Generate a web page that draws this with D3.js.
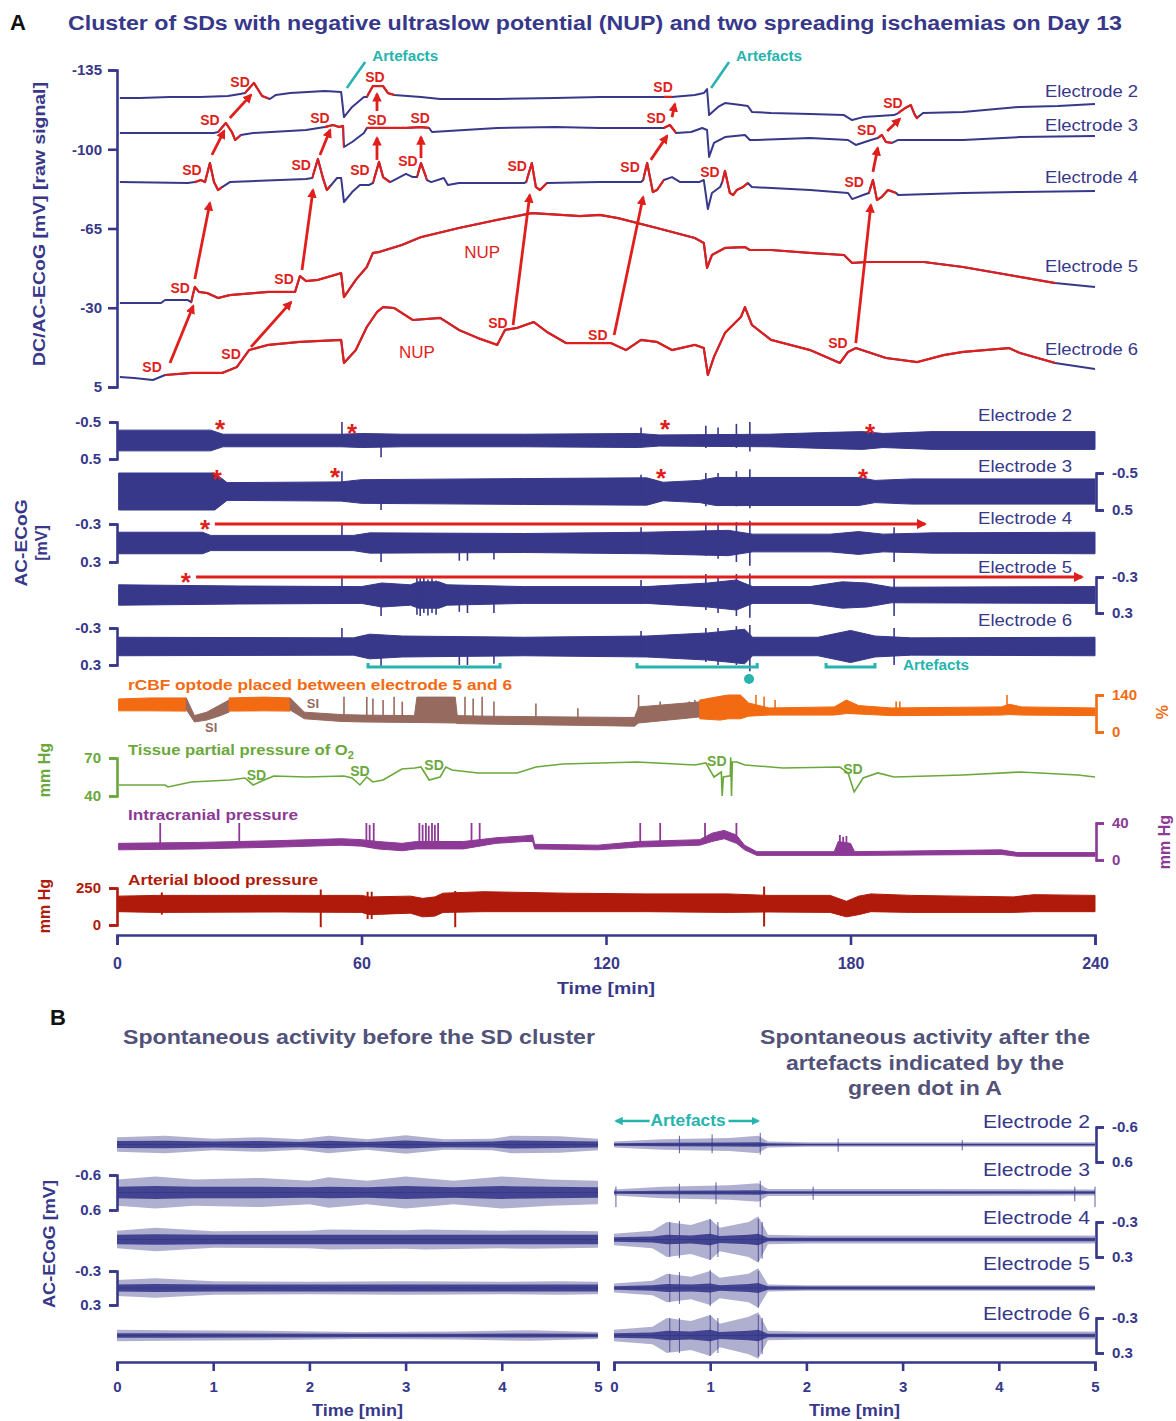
<!DOCTYPE html>
<html lang="en">
<head>
<meta charset="utf-8">
<title>Cluster of SDs with NUP</title>
<script src="https://cdn.jsdelivr.net/npm/d3@7"></script>
<style>
  body { margin: 0; background: #fff; }
</style>
</head>
<body>
<script>
// ---------- DC traces (time [min], potential [mV]) ----------
var dcE2 = [[0.7,-122.6],[5.6,-122.6],[13.0,-123.1],[20.4,-123.1],[27.2,-123.5],[30.2,-124.4],[31.4,-124.8],[33.6,-129.3],[35.6,-123.5],[37.5,-122.2],[39.0,-124.0],[42.5,-124.8],[51.0,-125.7],[55.0,-125.3],[55.7,-114.2],[57.7,-118.7],[60.6,-123.1],[61.3,-123.1],[62.8,-127.9],[65.3,-127.9],[66.5,-124.8],[68.0,-124.0],[74.6,-123.1],[79.3,-122.2],[93.3,-122.2],[107.5,-122.6],[118.5,-123.1],[127.6,-123.1],[134.2,-123.1],[136.2,-123.1],[141.8,-124.0],[144.0,-124.8],[144.8,-126.6],[145.3,-115.1],[147.5,-118.7],[149.2,-120.4],[153.1,-119.5],[154.8,-119.1],[155.8,-116.5],[160.5,-116.0],[170.1,-115.6],[178.4,-115.1],[180.4,-112.9],[183.1,-114.2],[190.7,-115.1],[191.7,-116.0],[193.4,-118.2],[194.8,-119.5],[195.8,-115.1],[196.3,-113.8],[197.8,-116.0],[207.6,-116.5],[221.6,-118.7],[230.9,-119.1],[240,-120.0]];
var dcE3 = [[0.7,-107.2],[13.5,-107.2],[23.8,-107.2],[24.8,-107.6],[26.7,-111.6],[28.2,-107.6],[29.0,-104.1],[30.4,-106.3],[33.4,-107.2],[46.4,-108.5],[51.0,-109.8],[53.0,-110.7],[54.5,-109.8],[55.5,-110.3],[55.7,-101.0],[57.7,-103.2],[60.6,-107.2],[61.3,-109.4],[65.3,-109.4],[70.9,-109.4],[74.6,-109.8],[76.6,-109.4],[77.3,-107.6],[93.3,-109.4],[107.5,-109.8],[118.5,-109.4],[127.6,-109.4],[134.2,-109.4],[135.7,-110.7],[137.2,-107.2],[140.9,-107.6],[143.6,-109.4],[144.8,-108.5],[145.3,-96.6],[146.5,-102.8],[149.2,-105.4],[154.1,-106.3],[155.3,-104.1],[156.8,-104.1],[170.1,-105.0],[179.4,-104.1],[181.3,-101.9],[185.0,-104.1],[186.7,-105.0],[187.7,-106.3],[188.7,-103.2],[190.2,-102.8],[191.7,-104.1],[207.6,-104.1],[221.6,-105.4],[240,-105.9]];
var dcE4 = [[0.7,-85.5],[17.4,-85.1],[19.1,-85.5],[20.6,-86.4],[21.6,-85.5],[22.8,-93.9],[23.8,-85.5],[24.8,-82.0],[25.8,-83.3],[27.7,-85.5],[46.4,-86.9],[47.9,-87.3],[49.3,-95.7],[50.6,-86.9],[51.5,-82.0],[53.0,-85.1],[54.0,-87.3],[55.0,-87.3],[55.7,-76.7],[57.7,-81.1],[59.6,-84.2],[61.8,-84.2],[62.8,-85.1],[64.3,-94.4],[65.3,-87.7],[67.0,-85.5],[68.0,-86.4],[70.9,-89.1],[72.6,-87.7],[73.6,-87.7],[74.6,-93.9],[76.1,-86.4],[77.1,-85.5],[80.2,-87.3],[81.2,-84.2],[83.9,-85.1],[99.9,-85.1],[100.4,-85.5],[101.8,-93.9],[102.8,-83.3],[103.8,-82.0],[105.5,-85.1],[118.5,-85.5],[128.6,-85.5],[129.1,-86.4],[130.1,-93.9],[131.5,-81.1],[132.5,-82.0],[134.2,-86.4],[136.2,-87.7],[138.2,-85.5],[142.8,-85.5],[144.0,-86.4],[145.0,-73.6],[146.0,-80.7],[148.0,-83.3],[148.5,-85.5],[149.2,-90.4],[150.4,-80.7],[151.2,-79.8],[152.1,-82.0],[153.6,-83.3],[154.8,-85.1],[155.8,-83.3],[170.1,-82.0],[179.4,-80.7],[180.4,-78.0],[183.1,-79.8],[184.5,-80.7],[185.5,-86.4],[186.5,-77.6],[187.7,-79.0],[189.2,-82.0],[191.2,-80.7],[191.7,-79.8],[207.6,-80.7],[221.6,-81.1],[240,-81.6]];
var dcE5 = [[0.7,-32.1],[10.8,-32.1],[11.8,-33.4],[17.4,-33.4],[18.2,-32.5],[19.1,-39.2],[20.1,-37.0],[22.1,-36.5],[24.8,-34.3],[27.7,-35.6],[37.1,-37.0],[43.7,-37.0],[44.9,-44.0],[46.4,-41.8],[49.3,-42.3],[55.0,-45.3],[55.7,-34.7],[58.6,-42.3],[61.3,-48.0],[62.8,-54.2],[64.3,-54.6],[69.9,-57.7],[74.6,-61.2],[83.9,-65.2],[93.3,-68.8],[101.8,-71.8],[113.6,-70.5],[118.5,-71.0],[122.9,-69.6],[132.5,-65.2],[141.8,-60.8],[144.0,-58.6],[144.8,-47.6],[146.0,-53.3],[149.2,-56.4],[154.1,-56.8],[155.3,-55.5],[160.5,-55.5],[170.1,-54.2],[178.4,-53.3],[180.4,-49.8],[184.0,-50.2],[198.0,-50.2],[207.6,-48.0],[221.6,-43.6],[230.2,-40.9],[240,-39.2]];
var dcE6 = [[0.7,0.6],[4.2,1.0],[8.8,1.9],[11.8,-0.3],[18.2,-1.2],[25.8,-1.2],[29.4,-3.8],[32.4,-11.3],[37.1,-13.6],[44.7,-14.9],[55.0,-15.8],[55.7,-5.6],[58.6,-11.3],[61.3,-21.5],[63.8,-28.1],[65.3,-30.3],[68.0,-29.9],[72.6,-24.6],[79.3,-25.5],[83.9,-20.2],[88.6,-16.6],[93.3,-13.6],[95.2,-20.2],[98.2,-21.1],[102.3,-23.7],[105.5,-19.3],[110.2,-14.4],[113.6,-14.4],[121.2,-14.4],[124.9,-11.3],[128.6,-15.8],[132.5,-14.9],[136.2,-11.3],[141.8,-13.6],[144.0,-12.2],[145.0,-0.3],[146.5,-8.3],[149.2,-18.9],[153.1,-25.9],[154.1,-30.3],[155.8,-22.4],[160.5,-15.8],[170.1,-11.3],[177.4,-5.6],[179.4,-10.5],[181.3,-12.2],[188.7,-7.8],[196.3,-6.0],[202.9,-9.1],[207.6,-10.5],[218.9,-12.2],[221.6,-10.0],[230.2,-5.6],[240,-2.9]];

// time windows of each DC trace that are drawn red (SD / NUP)
var redE2 = [[31.4,37.1],[61.3,68.0],[134.2,136.2],[191.7,196.8]];
var redE3 = [[24.8,30.4],[51.0,55.7],[61.3,76.6],[134.2,137.2],[186.7,190.2]];
var redE4 = [[19.1,25.8],[47.9,52.3],[62.8,67.0],[73.6,76.1],[100.4,105.5],[129.1,134.2],[148.5,154.8],[184.5,191.2]];
var redE5 = [[18.2,230.2]];
var redE6 = [[11.8,230.2]];

// SD propagation arrows [t0, mV0, t1, mV1]
var sdArrows = [[13.0,-5.6,18.7,-30.8],[19.1,-42.7,22.8,-76.3],[23.3,-97.5,26.3,-108.1],[27.7,-113.8,32.9,-124.0],
  [32.9,-12.7,42.7,-32.5],[45.4,-46.7,48.1,-82.0],[49.8,-97.5,52.3,-108.5],
  [63.8,-95.3,63.8,-105.0],[63.8,-116.9,63.8,-124.4],[74.6,-96.1,74.6,-105.4],
  [97.2,-22.4,101.3,-79.8],
  [122.0,-18.0,129.1,-78.9],[131.0,-95.3,135.0,-105.9],[136.2,-114.2,136.9,-120.0],
  [181.3,-14.4,185.0,-75.4],[185.5,-90.0,186.7,-100.6],[189.0,-108.1,192.1,-113.4]];
// SD labels [t, mV]
var sdLabels = [[30.2,-129.7],[63.3,-131.9],[134.0,-127.5],[190.4,-120.4],
  [22.8,-112.9],[49.8,-113.8],[63.8,-112.9],[74.4,-113.8],[132.3,-113.8],[184.0,-108.5],
  [18.4,-90.8],[45.2,-93.0],[59.6,-90.8],[71.4,-94.8],[98.2,-92.6],[125.9,-92.2],[145.5,-90.0],[180.9,-85.5],
  [15.5,-38.7],[41.0,-42.7],
  [8.6,-3.8],[28.0,-9.6],[93.5,-23.3],[118.0,-18.0],[176.9,-14.4]];
var nupLabels = [[89.6,-54.6],[73.6,-10.5]];
var dcTicks = [-135,-100,-65,-30,5];
var electrodeNames = ["Electrode 2","Electrode 3","Electrode 4","Electrode 5","Electrode 6"];

// ---------- AC-ECoG envelopes [t, half amplitude mV] and spikes [t, neg, pos] ----------
var acE2Env = [[0.4,0.28],[23,0.28],[26,0.17],[55,0.17],[60,0.19],[70,0.17],[100,0.17],[128,0.19],[133,0.15],[160,0.17],[175,0.22],[183,0.24],[188,0.19],[200,0.24],[240,0.24]];
var acE3Env = [[0.4,0.5],[24,0.5],[27,0.24],[55,0.26],[60,0.32],[100,0.35],[130,0.37],[134,0.25],[143,0.3],[147,0.38],[182,0.38],[186,0.3],[195,0.34],[240,0.34]];
var acE4Env = [[0.4,0.17],[21,0.17],[23,0.12],[58,0.12],[62,0.16],[100,0.15],[130,0.17],[150,0.2],[156,0.14],[175,0.14],[182,0.18],[188,0.14],[200,0.16],[240,0.17]];
var acE5Env = [[0.4,0.17],[30,0.15],[60,0.14],[65,0.2],[72,0.17],[74,0.22],[79,0.22],[81,0.17],[100,0.14],[130,0.14],[145,0.2],[152,0.25],[156,0.14],[170,0.14],[178,0.22],[184,0.2],[190,0.13],[240,0.14]];
var acE6Env = [[0.4,0.15],[58,0.14],[62,0.2],[70,0.17],[100,0.15],[130,0.17],[145,0.22],[154,0.28],[156,0.15],[172,0.15],[180,0.26],[186,0.17],[195,0.14],[240,0.15]];
var acE2Spk = [[55.2,-0.5,0.1],[64.8,-0.1,0.45],[128.6,-0.35,0.1],[144.5,-0.4,0.2],[147.5,-0.35,0.15],[152,-0.45,0.2],[155.3,-0.5,0.3]];
var acE3Spk = [[55.2,-0.55,0.2],[64.8,-0.2,0.5],[128.6,-0.45,0.3],[144.5,-0.5,0.4],[147.5,-0.5,0.35],[152,-0.55,0.4],[155.3,-0.6,0.45]];
var acE4Spk = [[55.2,-0.32,0.1],[64.8,-0.1,0.3],[84,-0.1,0.28],[86,-0.1,0.28],[92.5,-0.1,0.26],[128.6,-0.25,0.15],[144.5,-0.32,0.2],[147.5,-0.3,0.25],[152,-0.33,0.3],[155.3,-0.35,0.36],[190.7,-0.25,0.3]];
var acE5Spk = [[55.2,-0.32,0.15],[64.8,-0.1,0.35],[73.6,-0.3,0.33],[74.4,-0.28,0.35],[75.3,-0.3,0.3],[76.3,-0.26,0.34],[77.3,-0.28,0.3],[78.3,-0.24,0.33],[84,-0.1,0.28],[86,-0.1,0.3],[92.5,-0.1,0.3],[128.6,-0.25,0.15],[144.5,-0.35,0.25],[147.5,-0.3,0.3],[152,-0.35,0.35],[155.3,-0.36,0.38],[190.7,-0.3,0.35]];
var acE6Spk = [[55.2,-0.3,0.1],[64.8,-0.1,0.33],[84,-0.1,0.3],[86,-0.1,0.3],[92.5,-0.1,0.28],[128.6,-0.25,0.15],[144.5,-0.3,0.25],[147.5,-0.3,0.3],[152,-0.33,0.3],[155.3,-0.35,0.4],[190.7,-0.3,0.3]];
// depression onset asterisks [t, mV] per trace
var astE2 = [[25.3,-0.45],[57.7,-0.34],[134.5,-0.45],[184.8,-0.34]];
var astE3 = [[24.5,-0.47],[53.5,-0.53],[133.5,-0.5],[183.1,-0.5]];
var astE4 = [[21.6,-0.3]];
var astE5 = [[16.9,-0.3]];
var persistArrowE4 = [24.0,198.3];
var persistArrowE5 = [19.4,236.8];
var artefactBars = [[61.6,94.0],[127.6,157.1],[174.0,186.0]];
var artefactDot = 155.1;

// ---------- rCBF [t, low %, high %] ----------
var cbfOrange1 = [[0.4,80,125],[8,80,129],[17,79,129]];
var cbfBrown1 = [[17,85,129],[19,38,62],[22,45,75],[25,60,100],[27.5,75,121]];
var cbfOrange2 = [[27.5,79,129],[36,80,132],[42.5,79,129]];
var cbfBrown2 = [[42.5,83,129],[46,50,75],[55,40,66],[60,38,64],[73,36,62],[73.6,36,132],[83,34,132],[83.5,32,62],[90,30,60],[110,26,57],[127,22,55],[128,34,95],[143,57,114]];
var cbfOrange3 = [[143,50,121],[148,45,135],[150,50,140],[153,50,140],[155,60,110],[160,64,91],[176,64,95],[179,70,121],[182,68,100],[190,62,91],[217,64,95],[219,66,105],[222,64,95],[240,62,91]];
var cbfBrownSpk = [[55.7,60,133],[61.3,60,133],[62.8,60,127],[65.3,60,121],[68,60,133],[70,60,115],[85.4,55,133],[87.4,55,127],[89.6,55,133],[92.5,55,115],[102.8,50,108],[113.1,50,90],[128,50,140],[133.3,60,115],[140.4,80,115],[141.8,80,121]];
var cbfOrangeSpk = [[156.8,80,140],[158.8,80,133],[161.5,80,121],[191.2,80,115],[192.1,80,115],[218.4,80,140]];
var siLabels = [[23.1,19],[48.1,110]];

// ---------- tissue pO2 [t, mmHg] ----------
var pto2 = [[0.5,48.7],[11.8,48.7],[12.5,47.1],[18.2,51.1],[27.7,52.6],[31.4,54.2],[33.4,48.7],[36.1,52.6],[38.5,55.8],[46.4,55.0],[55.7,55.8],[57.7,54.2],[59.6,48.7],[61.3,55.0],[62.8,51.1],[65.3,52.6],[69.9,61.3],[73.1,62.1],[74.6,62.9],[76.6,52.6],[79.3,55.0],[80.7,62.9],[82.2,60.5],[88.6,58.2],[98.2,58.2],[102.8,62.9],[109.4,65.3],[118.5,66.1],[127.6,66.8],[141.8,64.5],[144.5,66.1],[146.5,55.0],[148.3,58.9],[148.5,40],[148.8,55],[150.5,56],[150.6,70.5],[150.8,40],[151.0,66.8],[152.1,66.8],[154.1,64.5],[160.5,62.9],[163.4,62.1],[177.4,62.9],[179.4,58.2],[180.9,43.2],[183.1,54.2],[186.7,58.2],[190.7,55.0],[207.6,56.6],[221.6,58.9],[235.8,56.6],[240,55.0]];
var pto2SdLabels = [[34.2,57],[59.6,60],[77.8,64.5],[147.2,68],[180.6,61]];

// ---------- ICP and ABP bands [t, low, high] ----------
var icpBand = [[0.4,11,18],[20,12,19],[40,14,21],[55,16,23],[60,15,22],[64,12,20],[70,10,18],[73.5,12,20],[80,12,20],[85,12,20],[93,18,24],[100,20,26],[102,20,27],[102.5,12,17],[118,11,16],[128,14,20],[143,16,22],[146,20,29],[149,23,32],[152,18,27],[154,11,16],[157,5,9],[176,5,9],[177,5,20],[180,5,18],[181,5,9],[217,6,11],[221,4,8],[240,4,8]];
var icpSpk = [[10.6,15,40],[30,16,40],[61.2,15,40],[62.0,15,38],[63.0,15,40],[74.2,14,40],[75.0,14,38],[75.8,14,40],[76.5,14,37],[77.3,14,40],[78.0,14,38],[78.8,14,40],[87,15,40],[89,15,40],[128.4,16,40],[133.3,16,40],[144.3,18,40],[152,20,40],[177.4,5,27],[178.2,5,25],[179.0,5,26]];
var abpBand = [[0.4,90,195],[10,85,200],[40,88,200],[60,85,200],[62,70,190],[72,80,195],[75,55,180],[78,60,190],[80,85,215],[90,90,225],[110,90,215],[130,90,210],[150,85,210],[160,88,200],[175,85,200],[179,55,160],[182,70,195],[185,90,210],[195,85,200],[220,85,190],[225,90,205],[240,90,200]];
var abpSpk = [[11,70,220],[50,-15,240],[61.5,40,225],[62.5,40,225],[83,-15,230],[158.8,-10,260]];
var timeTicks = [0,60,120,180,240];

// ---------- Panel B envelopes [t, outer half mV, core half mV] ----------
var bL2 = [[0,0.25,0.12],[0.5,0.3,0.13],[1,0.2,0.1],[1.5,0.25,0.12],[1.9,0.18,0.09],[2.2,0.3,0.13],[2.6,0.18,0.09],[3.0,0.32,0.14],[3.4,0.18,0.09],[3.9,0.2,0.1],[4.1,0.3,0.14],[4.6,0.28,0.12],[5,0.2,0.1]];
var bL3 = [[0,0.45,0.2],[0.4,0.55,0.22],[0.8,0.45,0.2],[1.5,0.5,0.2],[2.0,0.4,0.18],[2.2,0.52,0.2],[2.6,0.4,0.18],[3.0,0.55,0.22],[3.5,0.4,0.18],[4.0,0.55,0.22],[4.5,0.45,0.2],[5,0.4,0.18]];
var bL4 = [[0,0.15,0.08],[0.4,0.2,0.09],[1,0.14,0.08],[2,0.15,0.08],[2.2,0.17,0.08],[3,0.16,0.08],[3.2,0.17,0.08],[4,0.15,0.08],[4.3,0.16,0.08],[5,0.14,0.08]];
var bL5 = [[0,0.14,0.06],[0.4,0.17,0.07],[1,0.12,0.06],[2,0.11,0.06],[3,0.12,0.06],[4,0.11,0.06],[4.6,0.12,0.06],[5,0.11,0.06]];
var bL6 = [[0,0.1,0.04],[0.5,0.09,0.04],[1.5,0.08,0.035],[2.5,0.06,0.03],[3.5,0.07,0.03],[4.3,0.09,0.035],[5,0.06,0.03]];
var bR2 = [[0,0.1,0.04],[0.5,0.18,0.06],[1.2,0.22,0.07],[1.5,0.3,0.08],[1.6,0.1,0.04],[2,0.08,0.03],[5,0.08,0.03]];
var bR3 = [[0,0.1,0.04],[0.5,0.2,0.06],[1.2,0.25,0.07],[1.5,0.32,0.08],[1.6,0.12,0.04],[3,0.12,0.04],[5,0.1,0.04]];
var bR4 = [[0,0.1,0.04],[0.4,0.15,0.05],[0.55,0.3,0.08],[0.8,0.25,0.07],[1.0,0.35,0.1],[1.1,0.2,0.06],[1.4,0.3,0.08],[1.5,0.4,0.1],[1.6,0.08,0.03],[2,0.07,0.03],[5,0.07,0.03]];
var bR5 = [[0,0.08,0.03],[0.4,0.13,0.05],[0.55,0.25,0.07],[0.8,0.2,0.06],[1.0,0.3,0.08],[1.1,0.18,0.05],[1.4,0.25,0.07],[1.5,0.35,0.09],[1.6,0.06,0.03],[2,0.05,0.025],[5,0.05,0.025]];
var bR6 = [[0,0.1,0.04],[0.4,0.15,0.05],[0.55,0.3,0.08],[0.8,0.25,0.07],[1.0,0.35,0.1],[1.1,0.2,0.06],[1.4,0.32,0.08],[1.5,0.4,0.1],[1.6,0.08,0.03],[2,0.07,0.03],[5,0.07,0.03]];
var bR2Spk = [[0.68,-0.3,0.3],[1.02,-0.35,0.3],[1.52,-0.4,0.35],[2.33,-0.2,0.25],[3.62,-0.15,0.2]];
var bR3Spk = [[0.02,-0.2,0.5],[0.68,-0.3,0.35],[1.06,-0.35,0.4],[1.52,-0.4,0.5],[2.07,-0.2,0.25],[4.79,-0.2,0.3],[5,-0.2,0.5]];
var bR4Spk = [[0.58,-0.3,0.3],[0.68,-0.32,0.32],[1.0,-0.35,0.35],[1.08,-0.3,0.3],[1.5,-0.35,0.38],[1.54,-0.3,0.33]];
var bR5Spk = [[0.58,-0.25,0.25],[0.68,-0.28,0.28],[1.0,-0.32,0.32],[1.5,-0.3,0.35]];
var bR6Spk = [[0.58,-0.3,0.28],[0.68,-0.3,0.3],[1.0,-0.35,0.35],[1.08,-0.3,0.3],[1.5,-0.35,0.36],[1.54,-0.3,0.32]];
var bTicks = [0,1,2,3,4,5];
var bArtefactSpan = [0.02,1.5];

// ---------- styling ----------
var FONT = '"Liberation Sans", Arial, Helvetica, sans-serif';
var NAVY = "#37388a", RED = "#e01f1c", CYAN = "#27b3ae", ORANGE = "#f26b12", BROWN = "#976a5f",
    GREEN = "#6aa83c", PURPLE = "#8c3a96", DARKRED = "#b01a0a", GREY = "#525279";

var svg = d3.select("body").append("svg").attr("width", 1176).attr("height", 1421);
svg.append("rect").attr("width", 1176).attr("height", 1421).attr("fill", "white");
var defs = svg.append("defs");

function marker(id, color) {
	defs.append("marker").attr("id", id).attr("viewBox", "0 0 10 10")
		.attr("refX", 8).attr("refY", 5).attr("markerWidth", 3.4).attr("markerHeight", 3.4)
		.attr("orient", "auto-start-reverse")
		.append("path").attr("d", "M0,0L10,5L0,10z").attr("fill", color);
}
marker("arRed", RED);
marker("arCyan", CYAN);

function label(px, py, str, o) {
	var t = svg.append("text").attr("x", px).attr("y", py).text(str)
		.attr("font-family", FONT).attr("font-size", o.size || 14)
		.attr("font-weight", o.weight || "bold").attr("fill", o.color || NAVY)
		.attr("text-anchor", o.anchor || "start");
	if (o.width) t.attr("textLength", o.width).attr("lengthAdjust", "spacingAndGlyphs");
	if (o.rotate) t.attr("transform", "rotate(-90," + px + "," + py + ")");
	if (o.dy) t.attr("dy", o.dy);
	return t;
}

function styleAxis(g, color, size) {
	g.attr("font-family", FONT).attr("font-size", size).attr("font-weight", "bold");
	g.selectAll("path, line").attr("stroke", color).attr("stroke-width", 2.6);
	g.selectAll("text").attr("fill", color);
}

function bracket(scale, xpos, side, color, size) {
	var ax = (side === "left" ? d3.axisLeft(scale) : d3.axisRight(scale))
		.tickValues(scale.domain()).tickSize(8).tickSizeOuter(8).tickPadding(8).tickFormat(String);
	var g = svg.append("g").attr("transform", "translate(" + xpos + ",0)").call(ax);
	styleAxis(g, color, size || 15);
	return g;
}

// ---------- scales ----------
var x = d3.scaleLinear().domain([0, 240]).range([117, 1095]);
var yDC = d3.scaleLinear().domain([-135, 5]).range([70, 387]);
var acY = [
	d3.scaleLinear().domain([-0.5, 0.5]).range([422, 459]),
	d3.scaleLinear().domain([-0.5, 0.5]).range([473, 510]),
	d3.scaleLinear().domain([-0.3, 0.3]).range([524, 562]),
	d3.scaleLinear().domain([-0.3, 0.3]).range([577, 613]),
	d3.scaleLinear().domain([-0.3, 0.3]).range([628, 665])
];
var yCBF = d3.scaleLinear().domain([0, 140]).range([732, 695]);
var yPO2 = d3.scaleLinear().domain([40, 70]).range([796, 758]);
var yICP = d3.scaleLinear().domain([0, 40]).range([860, 823]);
var yABP = d3.scaleLinear().domain([0, 250]).range([925, 888]);
var xBL = d3.scaleLinear().domain([0, 5]).range([117, 598]);
var xBR = d3.scaleLinear().domain([0, 5]).range([614, 1095]);
var bY = [
	d3.scaleLinear().domain([-0.6, 0.6]).range([1127, 1162]),
	d3.scaleLinear().domain([-0.6, 0.6]).range([1175, 1210]),
	d3.scaleLinear().domain([-0.3, 0.3]).range([1222, 1257]),
	d3.scaleLinear().domain([-0.3, 0.3]).range([1271, 1305]),
	d3.scaleLinear().domain([-0.3, 0.3]).range([1318, 1353])
];

// ---------- titles ----------
label(10, 30, "A", {size: 22, color: "#111"});
label(68, 30, "Cluster of SDs with negative ultraslow potential (NUP) and two spreading ischaemias on Day 13", {size: 20, width: 1054});

// ---------- DC panel ----------
var gDC = svg.append("g").attr("transform", "translate(117,0)")
	.call(d3.axisLeft(yDC).tickValues(dcTicks).tickSize(9).tickSizeOuter(9).tickPadding(6).tickFormat(String));
styleAxis(gDC, NAVY, 15);
label(45, 224, "DC/AC-ECoG [mV] [raw signal]", {size: 16, anchor: "middle", rotate: true, width: 284});

var dcLine = d3.line().x(function(d) { return x(d[0]); }).y(function(d) { return yDC(d[1]); });
var dcTraces = [[dcE2, redE2], [dcE3, redE3], [dcE4, redE4], [dcE5, redE5], [dcE6, redE6]];
dcTraces.forEach(function(tr, i) {
	svg.append("path").attr("d", dcLine(tr[0])).attr("fill", "none")
		.attr("stroke", NAVY).attr("stroke-width", 2).attr("stroke-linejoin", "round");
	tr[1].forEach(function(r, j) {
		var id = "red" + i + "_" + j;
		defs.append("clipPath").attr("id", id).append("rect")
			.attr("x", x(r[0])).attr("width", x(r[1]) - x(r[0])).attr("y", 40).attr("height", 360);
		svg.append("path").attr("d", dcLine(tr[0])).attr("fill", "none").attr("clip-path", "url(#" + id + ")")
			.attr("stroke", RED).attr("stroke-width", 2.2).attr("stroke-linejoin", "round");
	});
});

svg.selectAll("line.sdArrow").data(sdArrows).enter().append("line").attr("class", "sdArrow")
	.attr("x1", function(d) { return x(d[0]); }).attr("y1", function(d) { return yDC(d[1]); })
	.attr("x2", function(d) { return x(d[2]); }).attr("y2", function(d) { return yDC(d[3]); })
	.attr("stroke", RED).attr("stroke-width", 2.8).attr("marker-end", "url(#arRed)");

svg.selectAll("text.sd").data(sdLabels).enter().append("text").attr("class", "sd")
	.attr("x", function(d) { return x(d[0]); }).attr("y", function(d) { return yDC(d[1]); })
	.attr("dy", "0.36em").attr("text-anchor", "middle").text("SD")
	.attr("font-family", FONT).attr("font-size", 14).attr("font-weight", "bold").attr("fill", RED);
svg.selectAll("text.nup").data(nupLabels).enter().append("text").attr("class", "nup")
	.attr("x", function(d) { return x(d[0]); }).attr("y", function(d) { return yDC(d[1]); })
	.attr("dy", "0.36em").attr("text-anchor", "middle").text("NUP")
	.attr("font-family", FONT).attr("font-size", 17).attr("fill", RED);

// artefact callouts at top
[[56.4, 60.9], [145.8, 150.2]].forEach(function(a) {
	svg.append("line").attr("x1", x(a[0])).attr("y1", yDC(-127.1)).attr("x2", x(a[1])).attr("y2", yDC(-138.5))
		.attr("stroke", CYAN).attr("stroke-width", 2.6);
	label(x(a[1]) + 7, 61, "Artefacts", {size: 14, color: CYAN, width: 66});
});

var dcLabelY = [91, 125, 177, 266, 349];
dcLabelY.forEach(function(py, i) {
	label(1045, py, electrodeNames[i], {size: 16, weight: "normal", dy: "0.36em", width: 93});
});

// ---------- AC-ECoG panel ----------
var acEnv = [acE2Env, acE3Env, acE4Env, acE5Env, acE6Env];
var acSpk = [acE2Spk, acE3Spk, acE4Spk, acE5Spk, acE6Spk];
acEnv.forEach(function(env, i) {
	var sc = acY[i];
	var area = d3.area().x(function(d) { return x(d[0]); })
		.y0(function(d) { return sc(d[1]); }).y1(function(d) { return sc(-d[1]); });
	svg.append("path").attr("d", area(env)).attr("fill", NAVY).attr("stroke", NAVY).attr("stroke-width", 1);
	svg.selectAll(null).data(acSpk[i]).enter().append("line")
		.attr("x1", function(d) { return x(d[0]); }).attr("x2", function(d) { return x(d[0]); })
		.attr("y1", function(d) { return sc(d[1]); }).attr("y2", function(d) { return sc(d[2]); })
		.attr("stroke", NAVY).attr("stroke-width", 1.6);
});
bracket(acY[0], 117, "left", NAVY);
bracket(acY[1], 1096, "right", NAVY);
bracket(acY[2], 117, "left", NAVY);
bracket(acY[3], 1096, "right", NAVY);
bracket(acY[4], 117, "left", NAVY);
label(27, 543, "AC-ECoG", {size: 16, anchor: "middle", rotate: true, width: 87});
label(47, 543, "[mV]", {size: 16, anchor: "middle", rotate: true});

var acLabelY = [415, 466, 518, 567, 620];
acLabelY.forEach(function(py, i) {
	label(978, py, electrodeNames[i], {size: 16, weight: "normal", dy: "0.36em", width: 94});
});

var asterisks = [[astE2, 0], [astE3, 1], [astE4, 2], [astE5, 3]];
asterisks.forEach(function(a) {
	var sc = acY[a[1]];
	svg.selectAll(null).data(a[0]).enter().append("text")
		.attr("x", function(d) { return x(d[0]); }).attr("y", function(d) { return sc(d[1]) + 14; })
		.attr("text-anchor", "middle").text("*")
		.attr("font-family", FONT).attr("font-size", 26).attr("font-weight", "bold").attr("fill", RED);
});
[[persistArrowE4, 2], [persistArrowE5, 3]].forEach(function(p) {
	var yy = acY[p[1]](-0.3);
	svg.append("line").attr("x1", x(p[0][0])).attr("x2", x(p[0][1])).attr("y1", yy).attr("y2", yy)
		.attr("stroke", RED).attr("stroke-width", 3).attr("marker-end", "url(#arRed)");
});

artefactBars.forEach(function(b) {
	var yy = 667;
	svg.append("path").attr("d", "M" + x(b[0]) + "," + (yy - 4) + "V" + yy + "H" + x(b[1]) + "V" + (yy - 4))
		.attr("fill", "none").attr("stroke", CYAN).attr("stroke-width", 3);
});
svg.append("circle").attr("cx", x(artefactDot)).attr("cy", 679).attr("r", 5).attr("fill", CYAN);
label(903, 670, "Artefacts", {size: 14, color: CYAN, width: 66});

// ---------- rCBF ----------
label(128, 690, "rCBF optode placed between electrode 5 and 6", {size: 15, color: ORANGE, width: 384});
var cbfArea = d3.area().x(function(d) { return x(d[0]); })
	.y0(function(d) { return yCBF(d[1]); }).y1(function(d) { return yCBF(d[2]); });
[[cbfOrange1, ORANGE], [cbfBrown1, BROWN], [cbfOrange2, ORANGE], [cbfBrown2, BROWN], [cbfOrange3, ORANGE]].forEach(function(s) {
	svg.append("path").attr("d", cbfArea(s[0])).attr("fill", s[1]).attr("stroke", s[1]).attr("stroke-width", 1);
});
[[cbfBrownSpk, BROWN], [cbfOrangeSpk, ORANGE]].forEach(function(s) {
	svg.selectAll(null).data(s[0]).enter().append("line")
		.attr("x1", function(d) { return x(d[0]); }).attr("x2", function(d) { return x(d[0]); })
		.attr("y1", function(d) { return yCBF(d[1]); }).attr("y2", function(d) { return yCBF(d[2]); })
		.attr("stroke", s[1]).attr("stroke-width", 1.6);
});
svg.selectAll("text.si").data(siLabels).enter().append("text").attr("class", "si")
	.attr("x", function(d) { return x(d[0]); }).attr("y", function(d) { return yCBF(d[1]); })
	.attr("dy", "0.36em").attr("text-anchor", "middle").text("SI")
	.attr("font-family", FONT).attr("font-size", 13).attr("font-weight", "bold").attr("fill", BROWN);
bracket(yCBF, 1096, "right", ORANGE);
label(1168, 712, "%", {size: 16, color: ORANGE, anchor: "middle", rotate: true});

// ---------- pO2 ----------
var ptTitle = label(128, 755, "Tissue partial pressure of O", {size: 15, color: GREEN, width: 226});
ptTitle.append("tspan").attr("font-size", 10).attr("dy", 4).text("2");
var po2Line = d3.line().x(function(d) { return x(d[0]); }).y(function(d) { return yPO2(d[1]); });
svg.append("path").attr("d", po2Line(pto2)).attr("fill", "none").attr("stroke", GREEN).attr("stroke-width", 1.6);
svg.selectAll("text.psd").data(pto2SdLabels).enter().append("text").attr("class", "psd")
	.attr("x", function(d) { return x(d[0]); }).attr("y", function(d) { return yPO2(d[1]); })
	.attr("dy", "0.36em").attr("text-anchor", "middle").text("SD")
	.attr("font-family", FONT).attr("font-size", 14).attr("font-weight", "bold").attr("fill", GREEN);
bracket(yPO2, 117, "left", GREEN);
label(50, 770, "mm Hg", {size: 16, color: GREEN, anchor: "middle", rotate: true});

// ---------- ICP ----------
label(128, 820, "Intracranial pressure", {size: 15, color: PURPLE, width: 170});
var bandArea = function(sc) {
	return d3.area().x(function(d) { return x(d[0]); })
		.y0(function(d) { return sc(d[1]); }).y1(function(d) { return sc(d[2]); });
};
svg.append("path").attr("d", bandArea(yICP)(icpBand)).attr("fill", PURPLE).attr("stroke", PURPLE).attr("stroke-width", 1);
svg.selectAll(null).data(icpSpk).enter().append("line")
	.attr("x1", function(d) { return x(d[0]); }).attr("x2", function(d) { return x(d[0]); })
	.attr("y1", function(d) { return yICP(d[1]); }).attr("y2", function(d) { return yICP(d[2]); })
	.attr("stroke", PURPLE).attr("stroke-width", 1.8);
bracket(yICP, 1096, "right", PURPLE);
label(1170, 842, "mm Hg", {size: 16, color: PURPLE, anchor: "middle", rotate: true});

// ---------- ABP ----------
label(128, 885, "Arterial blood pressure", {size: 15, color: DARKRED, width: 190});
svg.append("path").attr("d", bandArea(yABP)(abpBand)).attr("fill", DARKRED).attr("stroke", DARKRED).attr("stroke-width", 1);
svg.selectAll(null).data(abpSpk).enter().append("line")
	.attr("x1", function(d) { return x(d[0]); }).attr("x2", function(d) { return x(d[0]); })
	.attr("y1", function(d) { return yABP(d[1]); }).attr("y2", function(d) { return yABP(d[2]); })
	.attr("stroke", DARKRED).attr("stroke-width", 2);
bracket(yABP, 117, "left", DARKRED);
label(50, 906, "mm Hg", {size: 16, color: DARKRED, anchor: "middle", rotate: true});

// ---------- time axis A ----------
var gT = svg.append("g").attr("transform", "translate(0,935)")
	.call(d3.axisBottom(x).tickValues(timeTicks).tickSize(10).tickSizeOuter(10).tickPadding(13).tickFormat(String));
styleAxis(gT, NAVY, 16);
label(606, 994, "Time [min]", {size: 16, anchor: "middle", width: 98});

// ---------- Panel B ----------
label(50, 1025, "B", {size: 22, color: "#111"});
label(359, 1044, "Spontaneous activity before the SD cluster", {size: 20, color: GREY, anchor: "middle", width: 472});
label(925, 1044, "Spontaneous activity after the", {size: 20, color: GREY, anchor: "middle", width: 330});
label(925, 1070, "artefacts indicated by the", {size: 20, color: GREY, anchor: "middle", width: 278});
label(925, 1095, "green dot in A", {size: 20, color: GREY, anchor: "middle", width: 154});

function bTrace(env, spikes, xs, sc) {
	var outer = d3.area().x(function(d) { return xs(d[0]); })
		.y0(function(d) { return sc(d[1]); }).y1(function(d) { return sc(-d[1]); });
	var core = d3.area().x(function(d) { return xs(d[0]); })
		.y0(function(d) { return sc(d[2]); }).y1(function(d) { return sc(-d[2]); });
	svg.append("path").attr("d", outer(env)).attr("fill", NAVY).attr("opacity", 0.4);
	svg.append("path").attr("d", core(env)).attr("fill", NAVY).attr("opacity", 0.9);
	svg.append("line").attr("x1", xs(env[0][0])).attr("x2", xs(env[env.length - 1][0]))
		.attr("y1", sc(0)).attr("y2", sc(0)).attr("stroke", NAVY).attr("stroke-width", 1.2);
	svg.selectAll(null).data(spikes).enter().append("line")
		.attr("x1", function(d) { return xs(d[0]); }).attr("x2", function(d) { return xs(d[0]); })
		.attr("y1", function(d) { return sc(d[1]); }).attr("y2", function(d) { return sc(d[2]); })
		.attr("stroke", NAVY).attr("stroke-width", 1).attr("opacity", 0.8);
}
[bL2, bL3, bL4, bL5, bL6].forEach(function(env, i) { bTrace(env, [], xBL, bY[i]); });
[[bR2, bR2Spk], [bR3, bR3Spk], [bR4, bR4Spk], [bR5, bR5Spk], [bR6, bR6Spk]].forEach(function(p, i) {
	bTrace(p[0], p[1], xBR, bY[i]);
});
bracket(bY[1], 117, "left", NAVY);
bracket(bY[3], 117, "left", NAVY);
bracket(bY[0], 1096, "right", NAVY);
bracket(bY[2], 1096, "right", NAVY);
bracket(bY[4], 1096, "right", NAVY);
label(55, 1244, "AC-ECoG [mV]", {size: 16, anchor: "middle", rotate: true, width: 128});

var bLabelY = [1121, 1169, 1217, 1263, 1313];
bLabelY.forEach(function(py, i) {
	label(1090, py, electrodeNames[i], {size: 19, weight: "normal", anchor: "end", dy: "0.36em", width: 107});
});

// artefact span arrow in B
label(xBR(0.38), 1126, "Artefacts", {size: 16, color: CYAN, width: 75});
svg.append("line").attr("x1", xBR(0.37)).attr("x2", xBR(bArtefactSpan[0])).attr("y1", 1121).attr("y2", 1121)
	.attr("stroke", CYAN).attr("stroke-width", 2.5).attr("marker-end", "url(#arCyan)");
svg.append("line").attr("x1", xBR(1.19)).attr("x2", xBR(bArtefactSpan[1])).attr("y1", 1121).attr("y2", 1121)
	.attr("stroke", CYAN).attr("stroke-width", 2.5).attr("marker-end", "url(#arCyan)");

[xBL, xBR].forEach(function(xs) {
	var g = svg.append("g").attr("transform", "translate(0,1362)")
		.call(d3.axisBottom(xs).tickValues(bTicks).tickSize(9).tickSizeOuter(9).tickPadding(10).tickFormat(String));
	styleAxis(g, NAVY, 15);
	label((xs.range()[0] + xs.range()[1]) / 2, 1416, "Time [min]", {size: 16, anchor: "middle", width: 91});
});
</script>
</body>
</html>
